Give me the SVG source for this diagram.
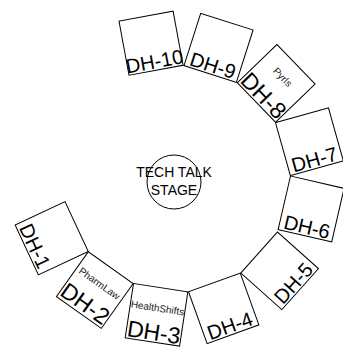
<svg xmlns="http://www.w3.org/2000/svg" width="343" height="360" viewBox="0 0 343 360">
<style>
.box{fill:#fff;stroke:#000;stroke-width:1}
.lbl{font-family:"Liberation Sans",Arial,sans-serif;font-size:20px;fill:#000;text-anchor:middle}
.big{font-size:23px}
.co{font-family:"Liberation Sans",Arial,sans-serif;font-size:10px;fill:#222;text-anchor:middle}
.ring{fill:none;stroke:#000;stroke-width:1}
.st{font-family:"Liberation Sans",Arial,sans-serif;font-size:14px;fill:#000;text-anchor:middle}
</style>
<rect width="343" height="360" fill="#fff"/>
<g id="stage">
<text class="st"><tspan x="174" y="177">TECH TALK</tspan><tspan x="174" y="195">STAGE</tspan></text>
<circle class="ring" cx="174" cy="182" r="27"/>
</g>
<g id="dh-1" transform="translate(65,201.7) rotate(65)"><rect class="box" width="55" height="55"/><text class="lbl" x="27.5" y="53">DH-1</text></g>
<g id="dh-2" transform="translate(88.3,251.7) rotate(35.4)"><rect class="box" width="55" height="55"/><text class="co" x="27.5" y="23">PharmLaw</text><text class="lbl big" x="27.5" y="52">DH-2</text></g>
<g id="dh-3" transform="translate(133.5,283.5) rotate(8.7)"><rect class="box" width="55" height="55"/><text class="co" x="27.5" y="24">HealthShifts</text><text class="lbl big" x="27.5" y="53">DH-3</text></g>
<g id="dh-4" transform="translate(188.5,291.8) rotate(-19.8)"><rect class="box" width="55" height="55"/><text class="lbl" x="27.5" y="53">DH-4</text></g>
<g id="dh-5" transform="translate(240.8,273) rotate(-48.2)"><rect class="box" width="55" height="55"/><text class="lbl" x="27.5" y="53">DH-5</text></g>
<g id="dh-6" transform="translate(290.5,176) rotate(13)"><rect class="box" width="55" height="55"/><text class="lbl" x="27.5" y="53">DH-6</text></g>
<g id="dh-7" transform="translate(275.5,122.7) rotate(-15.7)"><rect class="box" width="55" height="55"/><text class="lbl" x="27.5" y="53">DH-7</text></g>
<g id="dh-8" transform="translate(276.9,44.5) rotate(46)"><rect class="box" width="55" height="55"/><text class="co" x="27.5" y="22">Pyrls</text><text class="lbl big" x="27.5" y="53">DH-8</text></g>
<g id="dh-9" transform="translate(200.7,13.3) rotate(17.7)"><rect class="box" width="55" height="55"/><text class="lbl" x="27.5" y="53">DH-9</text></g>
<g id="dh-10" transform="translate(119,21.2) rotate(-10.5)"><rect class="box" width="55" height="55"/><text class="lbl" x="27.5" y="53">DH-10</text></g>
</svg>
